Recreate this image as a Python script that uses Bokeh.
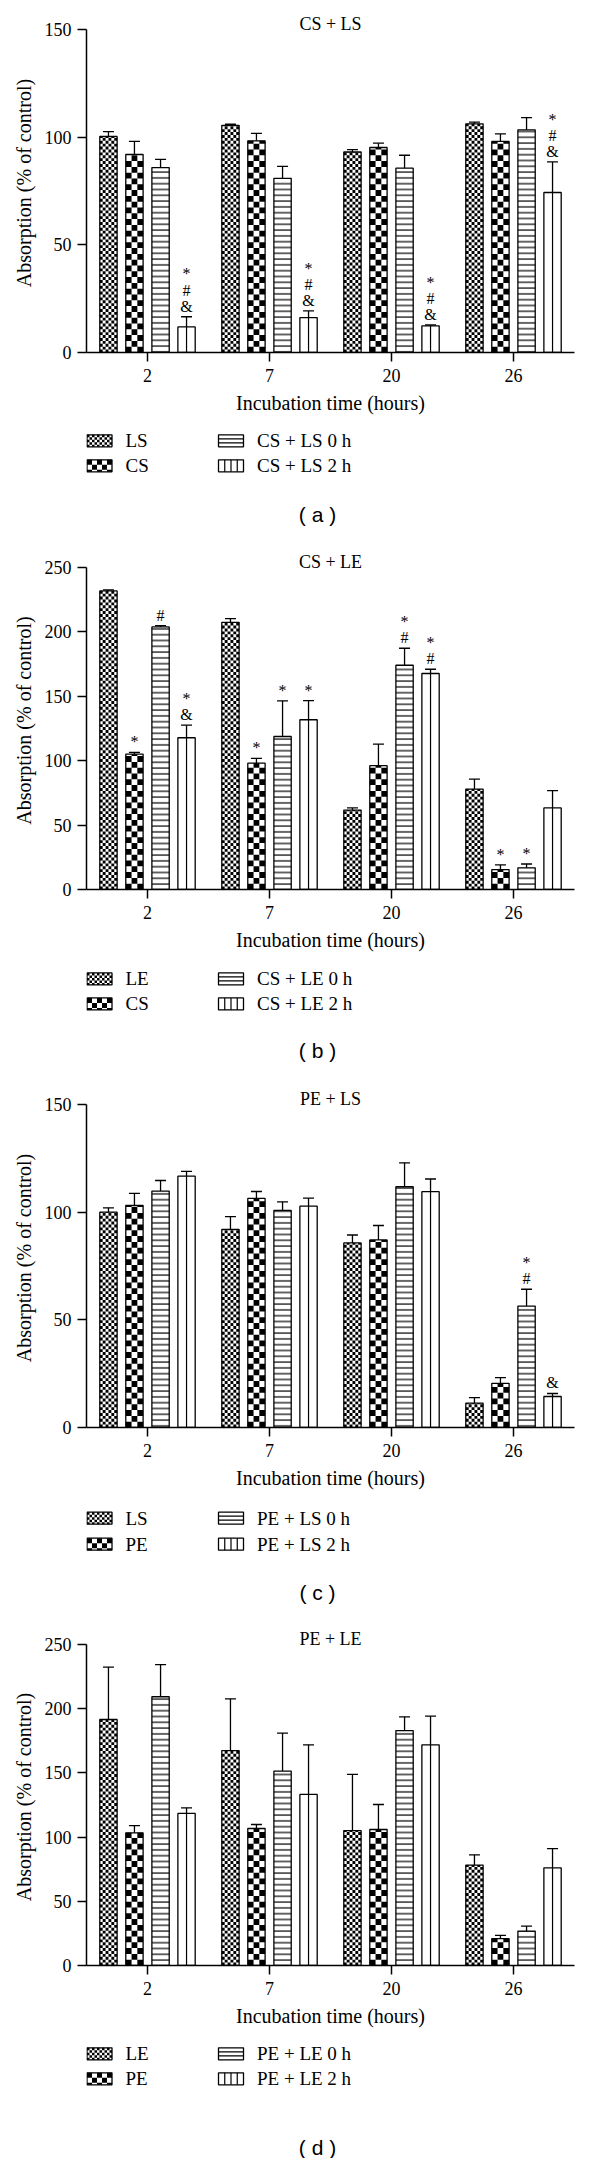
import math
from bokeh.plotting import figure
from bokeh.models import (ColumnDataSource, FactorRange, Range1d, FixedTicker, Label)
from bokeh.transform import dodge
from bokeh.layouts import column
from bokeh.core.properties import value
from bokeh.embed import file_html
from bokeh.resources import INLINE

hours = ["2", "7", "20", "26"]

# ---- panel (a) CS + LS ----
a_title = "CS + LS"
a_labels = ["LS", "CS", "CS + LS 0 h", "CS + LS 2 h"]
a_s1 = [100.3, 105.5, 93.1, 106.2]
a_s1_err = [2.3, 0.5, 1.1, 0.8]
a_s2 = [92.0, 98.3, 95.2, 98.0]
a_s2_err = [6.0, 3.5, 2.0, 3.5]
a_s3 = [85.9, 80.9, 85.6, 103.4]
a_s3_err = [3.8, 5.5, 6.0, 5.7]
a_s4 = [11.9, 16.2, 12.4, 74.3]
a_s4_err = [4.7, 3.1, 0.4, 14.2]
a_ann = [["", "", "", ""], ["", "", "", ""], ["", "", "", ""],
         ["*\n#\n&", "*\n#\n&", "*\n#\n&", "*\n#\n&"]]

# ---- panel (b) CS + LE ----
b_title = "CS + LE"
b_labels = ["LE", "CS", "CS + LE 0 h", "CS + LE 2 h"]
b_s1 = [231.8, 207.4, 61.7, 78.0]
b_s1_err = [0.8, 2.9, 1.6, 7.7]
b_s2 = [105.1, 98.1, 96.1, 15.5]
b_s2_err = [1.3, 3.7, 16.8, 3.6]
b_s3 = [203.9, 118.8, 174.1, 16.8]
b_s3_err = [1.0, 27.7, 13.2, 3.0]
b_s4 = [117.8, 131.8, 167.7, 63.3]
b_s4_err = [9.8, 14.9, 3.3, 13.4]
b_ann = [["", "", "", ""], ["*", "*", "", "*"], ["#", "*", "*\n#", "*"],
         ["*\n&", "*", "*\n#", ""]]

# ---- panel (c) PE + LS ----
c_title = "PE + LS"
c_labels = ["LS", "PE", "PE + LS 0 h", "PE + LS 2 h"]
c_s1 = [100.0, 92.0, 85.7, 11.3]
c_s1_err = [2.0, 5.9, 3.7, 2.6]
c_s2 = [103.1, 106.4, 87.1, 20.5]
c_s2_err = [5.6, 3.2, 6.7, 2.7]
c_s3 = [109.8, 100.8, 111.8, 56.4]
c_s3_err = [4.9, 4.0, 11.1, 7.8]
c_s4 = [116.7, 102.8, 109.5, 14.4]
c_s4_err = [2.2, 3.7, 5.9, 1.4]
c_ann = [["", "", "", ""], ["", "", "", ""], ["", "", "", "*\n#"],
         ["", "", "", "&"]]

# ---- panel (d) PE + LE ----
d_title = "PE + LE"
d_labels = ["LE", "PE", "PE + LE 0 h", "PE + LE 2 h"]
d_s1 = [191.6, 167.4, 105.1, 78.2]
d_s1_err = [40.8, 40.3, 43.7, 8.0]
d_s2 = [103.3, 106.7, 105.9, 21.0]
d_s2_err = [5.7, 3.1, 19.5, 2.4]
d_s3 = [209.3, 151.4, 183.0, 26.8]
d_s3_err = [25.1, 29.6, 10.7, 3.9]
d_s4 = [118.4, 133.2, 171.9, 76.1]
d_s4_err = [4.4, 38.7, 22.3, 15.0]
d_ann = [["", "", "", ""], ["", "", "", ""], ["", "", "", ""],
         ["", "", "", ""]]

SERIF = "Liberation Serif"
SANS = "Liberation Sans"

OFFS = [-0.32, -0.107, 0.107, 0.32]
BW = 0.142
FRAME_W = 488
FIG_W = 584
LEFT = 86
RIGHT = FIG_W - LEFT - FRAME_W
TITLE_PAD = 16


def checker(x0, x1, y0, y1, s, kx, ky):
    """black squares of a checkerboard of s-pixel cells filling a rectangle"""
    L, R, B, T = [], [], [], []
    ncols = max(1, int(round(abs(x1 - x0) * kx / s)))
    cw = (x1 - x0) / ncols
    ch = s / ky
    nrows = int(math.ceil((y1 - y0) / ch - 1e-9))
    for r in range(nrows):
        for c in range(ncols):
            if (r + c) % 2 == 0:
                L.append(x0 + c * cw)
                R.append(x0 + (c + 1) * cw)
                B.append(y0 + r * ch)
                T.append(min(y0 + (r + 1) * ch, y1))
    return L, R, B, T


def make_chart(title, series, errs, anns, ymax, yticks, top, frame_h):
    ky = frame_h / ymax
    kx = FRAME_W / 4.0
    yend = ymax + TITLE_PAD / ky
    p = figure(x_range=FactorRange(factors=hours, range_padding=0),
               y_range=Range1d(0, yend), width=FIG_W,
               height=top + frame_h + 72,
               output_backend="svg", toolbar_location=None,
               min_border_left=LEFT, min_border_right=RIGHT,
               min_border_top=top - TITLE_PAD, min_border_bottom=72)
    p.xgrid.visible = False
    p.ygrid.visible = False
    p.outline_line_color = None

    for ax in (p.xaxis[0], p.yaxis[0]):
        ax.major_tick_out = 9
        ax.major_tick_in = 0
        ax.minor_tick_out = 0
        ax.minor_tick_in = 0
        ax.axis_line_width = 1.5
        ax.major_tick_line_width = 1.5
        ax.axis_line_color = "black"
        ax.major_tick_line_color = "black"
        ax.major_label_text_font = SERIF
        ax.major_label_text_font_size = "18px"
        ax.major_label_text_color = "black"
        ax.axis_label_text_font = SERIF
        ax.axis_label_text_font_size = "20px"
        ax.axis_label_text_font_style = "normal"
        ax.axis_label_text_color = "black"
        ax.major_label_standoff = 7
        ax.axis_label_standoff = 7
    p.yaxis.ticker = FixedTicker(ticks=yticks, minor_ticks=[])
    p.yaxis.bounds = (0, ymax)
    p.yaxis.axis_label = "Absorption (% of control)"
    p.xaxis.axis_label = "Incubation time (hours)"
    p.yaxis.major_label_standoff = 6

    for i in range(4):
        vals = series[i]
        upper = [v + e for v, e in zip(vals, errs[i])]
        src = ColumnDataSource(dict(hours=hours, top=vals, upper=upper,
                                    ann=anns[i]))
        x = dodge("hours", OFFS[i], range=p.x_range)
        kw = dict(fill_color="white", line_color=None)
        if i == 2:
            kw.update(hatch_pattern="-", hatch_scale=5.8, hatch_weight=1.2,
                      hatch_color="black")
        p.vbar(x=x, top="top", width=BW, source=src, **kw)
        if i in (0, 1):
            s = 2.9 if i == 0 else 5.8
            Ls, Rs, Bs, Ts = [], [], [], []
            for j, h in enumerate(hours):
                cx = hours.index(h) + 0.5 + OFFS[i]
                l, r, b, t = checker(cx - BW / 2, cx + BW / 2, 0, vals[j], s, kx, ky)
                Ls += l; Rs += r; Bs += b; Ts += t
            p.quad(left=Ls, right=Rs, bottom=Bs, top=Ts,
                   fill_color="black", line_color=None)
        if i == 3:
            p.segment(x0=x, y0=0, x1=x, y1="top", source=src,
                      line_color="black", line_width=1.2)
        p.vbar(x=x, top="top", width=BW, source=src, fill_color=None,
               line_color="black", line_width=1.3)
        p.segment(x0=x, y0="top", x1=x, y1="upper", source=src,
                  line_color="black", line_width=1.3)
        p.scatter(x=x, y="upper", marker="dash", size=11, source=src,
                  line_color="black", line_width=1.3)
        p.text(x=x, y="upper", text="ann", source=src, text_align="center",
               text_baseline="bottom", y_offset=-2,
               text_font=value(SERIF), text_font_size="16px",
               text_line_height=0.95, text_color="black")

    p.add_layout(Label(x=2, y=ymax, text=title, text_align="center",
                       text_baseline="middle", y_offset=6,
                       text_font=SERIF, text_font_size="18px",
                       text_color="black"))
    return p


def make_legend(labels, caption, height, row1, row_gap, cap_y):
    # x in pixels from the chart frame's left edge, y in pixels from the top
    p = figure(width=FIG_W, height=height, x_range=Range1d(0, FRAME_W),
               y_range=Range1d(height, 0), output_backend="svg",
               toolbar_location=None, x_axis_type=None, y_axis_type=None,
               min_border_left=LEFT, min_border_right=RIGHT,
               min_border_top=0, min_border_bottom=0)
    p.xgrid.visible = False
    p.ygrid.visible = False
    p.outline_line_color = None
    sw_x = [0.5, 132]
    sw_w, sw_h = 25, 12
    rows = [row1, row1 + row_gap]
    # item order: column-major (LS, CS | 0 h, 2 h)
    pos = [(sw_x[0], rows[0]), (sw_x[0], rows[1]),
           (sw_x[1], rows[0]), (sw_x[1], rows[1])]
    for k, (sx, sy) in enumerate(pos):
        x0, x1 = sx, sx + sw_w
        y0, y1 = sy - sw_h / 2, sy + sw_h / 2
        p.quad(left=[x0], right=[x1], top=[y0], bottom=[y1],
               fill_color="white", line_color=None)
        if k in (0, 1):
            s = 2.5 if k == 0 else 5.0
            l, r, b, t = checker(x0, x1, y0, y1, s, 1.0, 1.0)
            p.quad(left=l, right=r, bottom=b, top=t,
                   fill_color="black", line_color=None)
        elif k == 2:
            ys = [y0 + sw_h / 3, y0 + 2 * sw_h / 3]
            p.segment(x0=[x0] * 2, x1=[x1] * 2, y0=ys, y1=ys,
                      line_color="black", line_width=1.2)
        else:
            xs = [x0 + sw_w / 4, x0 + sw_w / 2, x0 + 3 * sw_w / 4]
            p.segment(x0=xs, x1=xs, y0=[y0] * 3, y1=[y1] * 3,
                      line_color="black", line_width=1.2)
        p.quad(left=[x0], right=[x1], top=[y0], bottom=[y1],
               fill_color=None, line_color="black", line_width=1.3)
        p.text(x=[x1 + 13.5], y=[sy], text=[labels[k]], text_align="left",
               text_baseline="middle", text_font=value(SERIF),
               text_font_size="19px", text_color="black")
    p.text(x=[FRAME_W / 2 - 13], y=[cap_y], text=[caption], text_align="center",
           text_baseline="middle", text_font=value(SANS),
           text_font_size="21px", text_color="black")
    return p


pa = make_chart(a_title, [a_s1, a_s2, a_s3, a_s4],
                [a_s1_err, a_s2_err, a_s3_err, a_s4_err], a_ann,
                150, [0, 50, 100, 150], 29, 323)
la = make_legend(a_labels, "( a )", 538 - (29 + 323 + 72), 16.3, 25, 89.7)

pb = make_chart(b_title, [b_s1, b_s2, b_s3, b_s4],
                [b_s1_err, b_s2_err, b_s3_err, b_s4_err], b_ann,
                250, [0, 50, 100, 150, 200, 250], 29, 322)
lb = make_legend(b_labels, "( b )", 536 - (29 + 322 + 72), 17.4, 25, 89)

pc = make_chart(c_title, [c_s1, c_s2, c_s3, c_s4],
                [c_s1_err, c_s2_err, c_s3_err, c_s4_err], c_ann,
                150, [0, 50, 100, 150], 30, 323)
lc = make_legend(c_labels, "( c )", 540 - (30 + 323 + 72), 18.7, 26, 93)

pd = make_chart(d_title, [d_s1, d_s2, d_s3, d_s4],
                [d_s1_err, d_s2_err, d_s3_err, d_s4_err], d_ann,
                250, [0, 50, 100, 150, 200, 250], 30, 321)
ld = make_legend(d_labels, "( d )", 544 - (30 + 321 + 72), 16.3, 25, 110)

layout = column(pa, la, pb, lb, pc, lc, pd, ld, spacing=0)
open("out.html", "w").write(file_html(layout, INLINE))
